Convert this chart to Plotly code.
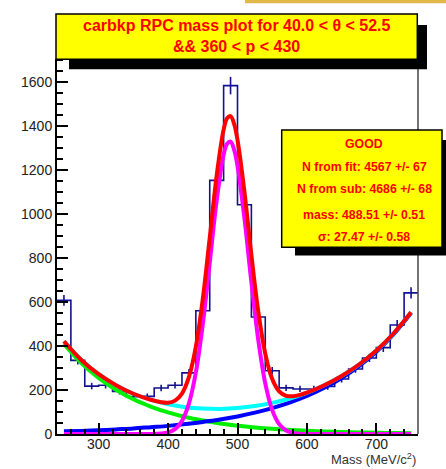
import plotly.graph_objects as go

# ---------------- data ----------------
bin_centers = [250, 270, 290, 310, 330, 350, 370, 390, 410, 430, 450, 470, 490,
               510, 530, 550, 570, 590, 610, 630, 650, 670, 690, 710, 730, 750]
counts = [608, 335, 218, 222, 194, 170, 171, 209, 222, 278, 561, 1154, 1585,
          1043, 532, 288, 210, 205, 205, 216, 250, 296, 346, 393, 496, 642]
count_errors = [24.7, 18.3, 14.8, 14.9, 13.9, 13.0, 13.1, 14.5, 14.9, 16.7, 23.7, 34.0, 39.8,
                32.3, 23.1, 17.0, 14.5, 14.3, 14.3, 14.7, 15.8, 17.2, 18.6, 19.8, 22.3, 25.3]
bin_width = 20

mass_bg = [250, 275, 300, 325, 350, 375, 400, 425, 450, 475, 500,
           525, 550, 575, 600, 625, 650, 675, 700, 725, 750]
green_bg = [410, 323, 255, 201, 158, 125, 98, 77, 61, 48, 38,
            30, 23.5, 18.6, 14.6, 11.5, 9.1, 7.2, 5.7, 4.4, 3.5]
blue_bg = [12, 14, 17, 21, 25, 31, 37, 45, 55, 66, 80,
           97, 118, 143, 173, 210, 255, 309, 374, 454, 550]
cyan_bg = [422, 337, 272, 222, 183, 156, 135, 122, 116, 114, 118,
           127, 141.5, 161.6, 187.6, 221.5, 264, 316, 380, 458, 553.5]

mass_fit = [250, 275, 300, 325, 350, 375, 390, 400, 410, 420, 430, 440, 450, 460, 470,
            480, 485, 490, 495, 500, 510, 520, 530, 540, 550, 560, 570, 580, 590, 600,
            625, 650, 675, 700, 725, 750]
signal_fit = [0, 0, 0, 0, 0, 0.2, 2.1, 7.4, 22.4, 59.4, 137.9, 280, 499, 778, 1062,
              1270, 1321, 1330, 1295, 1220, 981, 690, 426, 230, 108.7, 45, 16.3, 5.2, 1.4, 0.3,
              0, 0, 0, 0, 0, 0]
total_fit = [422, 337, 272, 222, 183, 156, 144.7, 142.4, 151.9, 184.1, 258.6, 397.8, 615, 892.6, 1176.3,
             1384.8, 1436.3, 1446.1, 1412.2, 1338, 1102.3, 815.1, 555.8, 365.2, 250.2, 193.9, 173.5, 171.7, 178.2, 187.9,
             221.5, 264.1, 316.2, 379.7, 458.4, 553.5]

title_lines = ["carbkp RPC mass plot for 40.0 < θ < 52.5", "&& 360 < p < 430"]
stats_lines = ["GOOD", "N from fit: 4567 +/- 67", "N from sub: 4686 +/- 68",
               "mass: 488.51 +/- 0.51", "σ: 27.47 +/- 0.58"]
x_title = "Mass (MeV/c<sup>2</sup>)"

# ---------------- layout geometry ----------------
W, H = 446, 469
L, R, T, B = 57, 28, 59, 35
PW, PH = W - L - R, H - T - B


def px(xp):
    return (xp - L) / PW


def py(yp):
    return (H - B - yp) / PH


FONT = "Liberation Sans, Arial, Helvetica, sans-serif"
HIST_COL = "#12128f"

fig = go.Figure()

# histogram outline (steps built from bin centres)
step_x = [c - bin_width / 2 for c in bin_centers] + [bin_centers[-1] + bin_width / 2]
step_y = counts + [counts[-1]]
fig.add_trace(go.Scatter(x=step_x, y=step_y, mode="lines", line_shape="hv",
                         line=dict(color=HIST_COL, width=1.6), hoverinfo="skip"))
# error bars
fig.add_trace(go.Scatter(x=bin_centers, y=counts, mode="markers",
                         marker=dict(size=1, color=HIST_COL),
                         error_y=dict(type="data", array=count_errors, width=0,
                                      thickness=1.6, color=HIST_COL)))

# fit components
fig.add_trace(go.Scatter(x=mass_bg, y=green_bg, mode="lines", line_shape="spline",
                         line=dict(color="#00ee00", width=4)))
fig.add_trace(go.Scatter(x=mass_bg, y=blue_bg, mode="lines", line_shape="spline",
                         line=dict(color="#0000ff", width=4)))
fig.add_trace(go.Scatter(x=mass_bg, y=cyan_bg, mode="lines", line_shape="spline",
                         line=dict(color="#00ffff", width=4)))
fig.add_trace(go.Scatter(x=mass_fit, y=signal_fit, mode="lines", line_shape="spline",
                         line=dict(color="#ff00ff", width=4)))
fig.add_trace(go.Scatter(x=mass_fit, y=total_fit, mode="lines", line_shape="spline",
                         line=dict(color="#ff0000", width=4)))

shapes = []
# right frame line
shapes.append(dict(type="line", xref="paper", yref="paper", x0=1, x1=1, y0=0, y1=1,
                   line=dict(color="#444444", width=1.5), layer="above"))
# gold bar at top right (cut-off element of the page)
shapes.append(dict(type="rect", xref="paper", yref="paper", x0=px(245), x1=px(446),
                   y0=py(3.3), y1=py(0), fillcolor="#e2b84c", line=dict(width=0), layer="above"))
# title box with shadow
shapes.append(dict(type="rect", xref="paper", yref="paper", x0=px(69), x1=px(427),
                   y0=py(69.3), y1=py(25), fillcolor="black", line=dict(width=0), layer="above"))
shapes.append(dict(type="rect", xref="paper", yref="paper", x0=px(56), x1=px(417.3),
                   y0=py(59.3), y1=py(14), fillcolor="#ffff00",
                   line=dict(color="black", width=1.5), layer="above"))
# stats box with shadow
shapes.append(dict(type="rect", xref="paper", yref="paper", x0=px(295), x1=px(460),
                   y0=py(255.5), y1=py(140), fillcolor="black", line=dict(width=0), layer="above"))
shapes.append(dict(type="rect", xref="paper", yref="paper", x0=px(281.7), x1=px(442),
                   y0=py(247.3), y1=py(130), fillcolor="#ffff00",
                   line=dict(color="black", width=1.5), layer="above"))

annotations = []
for txt, yy in zip(title_lines, [25, 46.7]):
    annotations.append(dict(text="<b>" + txt + "</b>", xref="paper", yref="paper",
                            x=px(236.7), y=py(yy), xanchor="center", yanchor="middle",
                            showarrow=False, font=dict(family=FONT, size=16, color="#ff0000")))
for txt, yy in zip(stats_lines, [144, 166.7, 189.3, 215, 236.7]):
    annotations.append(dict(text="<b>" + txt + "</b>", xref="paper", yref="paper",
                            x=px(364), y=py(yy), xanchor="center", yanchor="middle",
                            showarrow=False, font=dict(family=FONT, size=12.3, color="#ff0000")))
annotations.append(dict(text=x_title, xref="paper", yref="paper", x=1, y=py(469),
                        xanchor="right", yanchor="bottom", showarrow=False,
                        font=dict(family=FONT, size=13, color="#333333")))

fig.update_layout(
    width=W, height=H,
    margin=dict(l=L, r=R, t=T, b=B, pad=0),
    paper_bgcolor="white", plot_bgcolor="white",
    showlegend=False,
    font=dict(family=FONT, size=14, color="#222222"),
    shapes=shapes, annotations=annotations,
    xaxis=dict(range=[240, 760], tick0=0, dtick=100, showgrid=False, zeroline=False,
               showline=True, linecolor="black", linewidth=2,
               ticks="inside", ticklen=11, tickwidth=1.5, tickcolor="black",
               ticklabelstandoff=-4,
               minor=dict(dtick=20, tick0=0, ticks="inside", ticklen=5.5, tickwidth=1.5,
                          tickcolor="black", showgrid=False),
               tickfont=dict(family=FONT, size=14, color="#222222")),
    yaxis=dict(range=[0, 1706], tick0=0, dtick=200, showgrid=False, zeroline=False,
               showline=True, linecolor="black", linewidth=2,
               ticks="inside", ticklen=11, tickwidth=1.5, tickcolor="black",
               minor=dict(dtick=50, tick0=0, ticks="inside", ticklen=5.5, tickwidth=1.5,
                          tickcolor="black", showgrid=False),
               tickfont=dict(family=FONT, size=14, color="#222222")),
)

fig.write_html("out.html")
